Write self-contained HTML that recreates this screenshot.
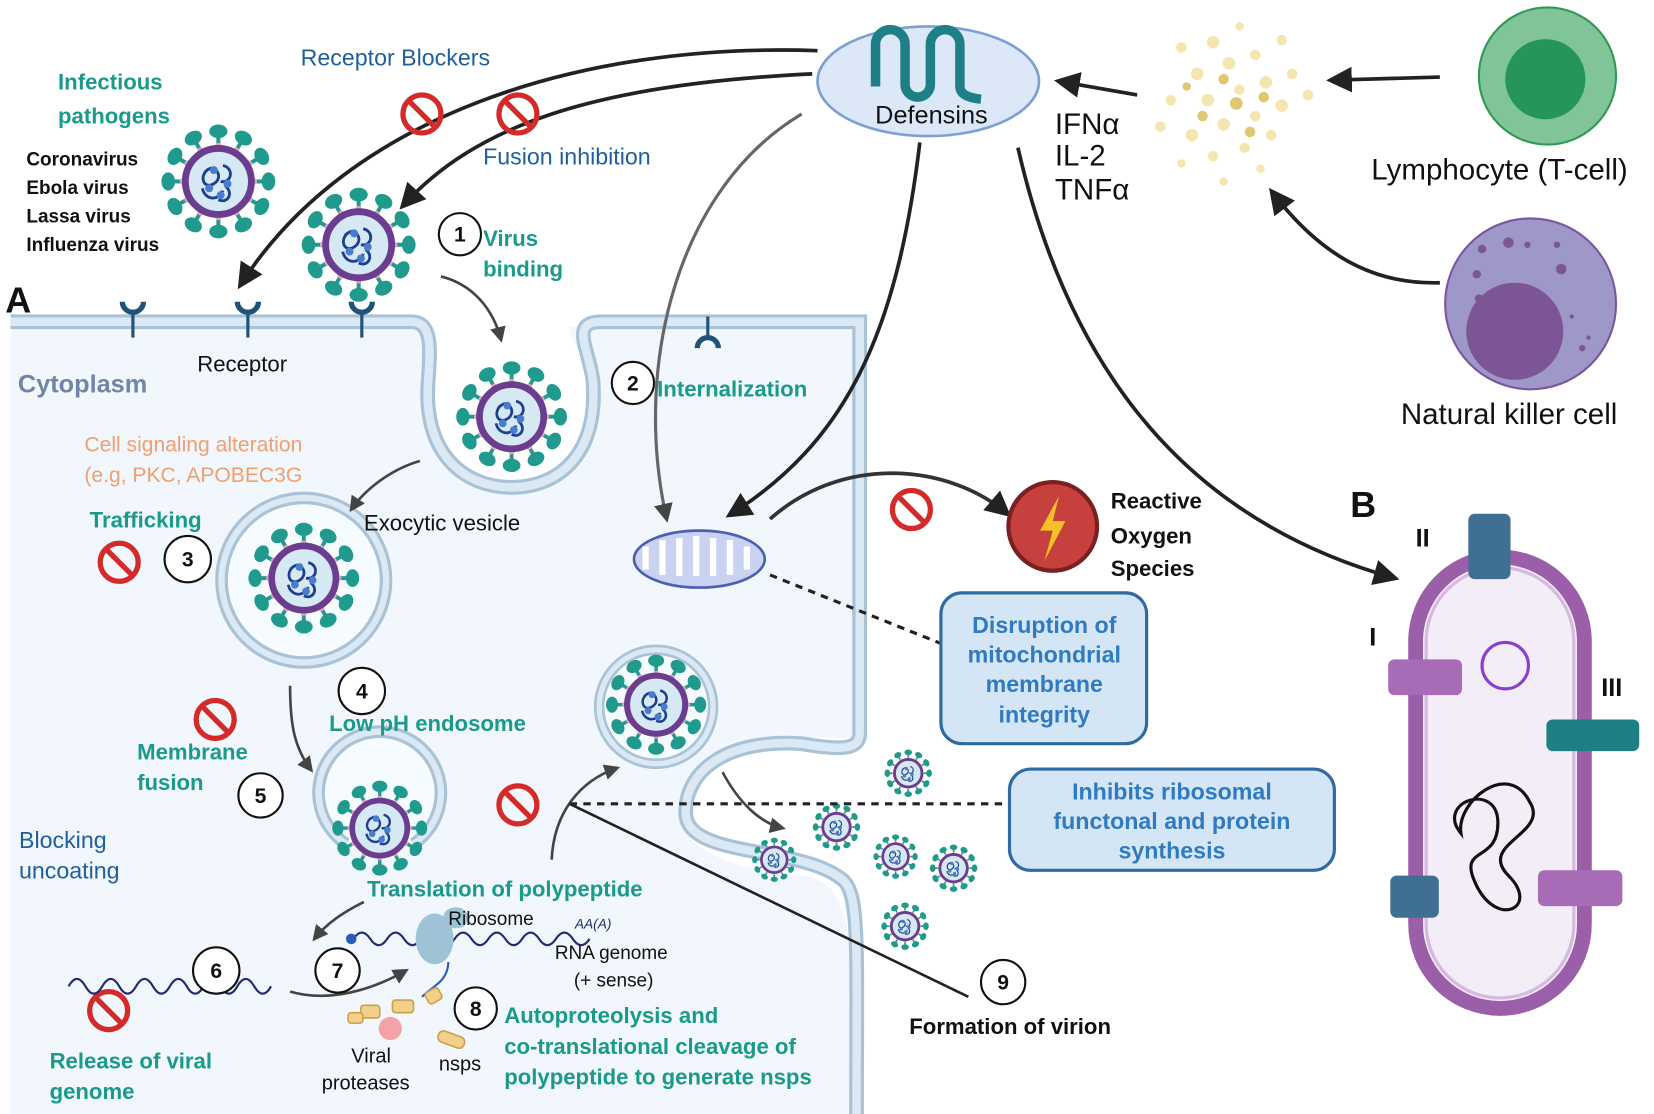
<!DOCTYPE html>
<html><head><meta charset="utf-8"><style>
html,body{margin:0;padding:0;background:#fff}
svg{display:block}
text{font-family:"Liberation Sans",sans-serif}
.tb{fill:#1a9a8a;font-weight:bold;font-size:21px}
.bl{fill:#1f5fa0;font-size:22px}
.k{fill:#111;font-size:21px}
.kb{fill:#111;font-weight:bold;font-size:18px}
.num{font-size:20px;font-weight:bold;fill:#111;text-anchor:middle}
.bx{fill:#2f7ac0;font-weight:bold;font-size:22px;text-anchor:middle}
</style></head><body>
<svg width="1654" height="1114" viewBox="0 0 1568 1056" xmlns="http://www.w3.org/2000/svg">
<defs>
<marker id="ah" viewBox="0 0 10 10" refX="8" refY="5" markerWidth="7" markerHeight="7" orient="auto"><path d="M0,0L10,5L0,10z" fill="#222"/></marker>
<marker id="ah2" viewBox="0 0 10 10" refX="8" refY="5" markerWidth="6" markerHeight="6" orient="auto"><path d="M0,0L10,5L0,10z" fill="#444"/></marker>
<g id="sp"><line x1="0" y1="-30" x2="0" y2="-41" stroke="#1f9a8c" stroke-width="3.5"/><ellipse cx="0" cy="-44" rx="8" ry="6" fill="#1f9a8c"/><circle cx="0" cy="-31" r="3" fill="#e6a3c8"/></g>
<g id="v">
<use href="#sp"/><use href="#sp" transform="rotate(30)"/><use href="#sp" transform="rotate(60)"/><use href="#sp" transform="rotate(90)"/><use href="#sp" transform="rotate(120)"/><use href="#sp" transform="rotate(150)"/><use href="#sp" transform="rotate(180)"/><use href="#sp" transform="rotate(210)"/><use href="#sp" transform="rotate(240)"/><use href="#sp" transform="rotate(270)"/><use href="#sp" transform="rotate(300)"/><use href="#sp" transform="rotate(330)"/>
<circle r="29" fill="#d7e8f5" stroke="#6a3d8f" stroke-width="6"/>
<path d="M-12,-8c8,-10 18,4 8,10c-10,6 -14,-10 -2,-14M4,-14c10,2 8,16 -2,14M-14,6c2,10 14,12 18,2M6,4c8,6 2,16 -6,12" stroke="#1c3f8f" stroke-width="2.5" fill="none"/>
<circle cx="-4" cy="-10" r="3.5" fill="#4a7ccc"/><circle cx="8" cy="2" r="3.5" fill="#4a7ccc"/><circle cx="-8" cy="6" r="3.5" fill="#4a7ccc"/><circle cx="2" cy="12" r="3.5" fill="#4a7ccc"/>
</g>
<g id="no"><circle r="18" fill="none" stroke="#d42a2a" stroke-width="5"/><line x1="-12" y1="-12" x2="12" y2="12" stroke="#d42a2a" stroke-width="5"/></g>
<g id="rc"><line x1="0" y1="0" x2="0" y2="-22" stroke="#1f5378" stroke-width="3"/><path d="M-10,-34 A10,10 0 0 0 10,-34" fill="none" stroke="#1f5378" stroke-width="5"/></g>
</defs>

<!-- cell -->
<path d="M10,305 H405 C405,330 400,340 402,380 C400,430 440,460 485,460 C530,460 568,430 566,380 C565,340 540,330 540,310 L815,305 V700 C780,700 700,690 650,740 C630,780 650,820 760,830 C800,835 812,860 812,1056 H10 Z" fill="#f1f7fc"/>
<path d="M10,305 H390 C410,305 408,330 406,360 C400,430 440,462 485,462 C530,462 568,430 562,360 C558,330 540,305 570,305 H815 V695 C815,710 800,712 760,705 C690,700 650,730 650,770 C650,815 760,800 800,835 C815,850 812,900 812,1056" fill="none" stroke="#a9c2d6" stroke-width="14"/>
<path d="M10,305 H390 C410,305 408,330 406,360 C400,430 440,462 485,462 C530,462 568,430 562,360 C558,330 540,305 570,305 H815 V695 C815,710 800,712 760,705 C690,700 650,730 650,770 C650,815 760,800 800,835 C815,850 812,900 812,1056" fill="none" stroke="#dbe9f4" stroke-width="8"/>

<!-- receptors -->
<use href="#rc" transform="translate(126,320)"/><use href="#rc" transform="translate(235,320)"/><use href="#rc" transform="translate(343,320)"/>
<g transform="translate(671,300)"><line x1="0" y1="0" x2="0" y2="18" stroke="#1f5378" stroke-width="3"/><path d="M-10,30 A10,10 0 0 1 10,30" fill="none" stroke="#1f5378" stroke-width="5"/></g>

<!-- vesicles -->
<circle cx="288" cy="550" r="78" fill="#f6fbff" stroke="#a9c2d6" stroke-width="12"/><circle cx="288" cy="550" r="78" fill="none" stroke="#dbe9f4" stroke-width="6"/>
<circle cx="622" cy="670" r="54" fill="#f6fbff" stroke="#a9c2d6" stroke-width="10"/><circle cx="622" cy="670" r="54" fill="none" stroke="#dbe9f4" stroke-width="5"/>
<path d="M328,800 A58,58 0 1 1 392,800" fill="#f6fbff" stroke="#a9c2d6" stroke-width="12"/><path d="M328,800 A58,58 0 1 1 392,800" fill="none" stroke="#dbe9f4" stroke-width="6"/>

<!-- viruses -->
<use href="#v" transform="translate(207,172) scale(1.08)"/>
<use href="#v" transform="translate(340,232) scale(1.08)"/>
<use href="#v" transform="translate(485,395) scale(1.05)"/>
<use href="#v" transform="translate(288,548) scale(1.05)"/>
<use href="#v" transform="translate(622,668) scale(0.95)"/>
<use href="#v" transform="translate(360,785) scale(0.9)"/>
<use href="#v" transform="translate(861,733) scale(0.45)"/><use href="#v" transform="translate(793,784) scale(0.45)"/><use href="#v" transform="translate(734,815) scale(0.42)"/><use href="#v" transform="translate(849,812) scale(0.42)"/><use href="#v" transform="translate(904,823) scale(0.45)"/><use href="#v" transform="translate(858,878) scale(0.45)"/>

<!-- mitochondrion -->
<ellipse cx="663" cy="530" rx="62" ry="27" fill="#c9d3f1" stroke="#4d5fb0" stroke-width="2.5"/>
<path d="M612,540 V518 M628,545 V512 M644,546 V510 M660,546 V508 M676,546 V510 M692,545 V512 M708,540 V518" stroke="#fff" stroke-width="6"/>

<!-- arrows -->
<g fill="none" stroke-width="3.5" stroke="#222" marker-end="url(#ah)">
<path d="M775,48 C550,40 330,110 228,270"/>
<path d="M770,70 C560,80 450,120 382,195"/>
<path d="M872,135 C850,320 800,420 692,488" />
<path d="M965,140 C1020,380 1150,500 1322,548" />
<path d="M1365,73 L1262,76"/>
<path d="M1078,90 L1004,77"/>
<path d="M1365,268 C1300,270 1250,240 1206,182"/>
<path d="M730,492 C800,430 900,440 955,487" stroke="#333"/>
</g>
<path d="M760,108 C640,180 600,350 632,492" fill="none" stroke="#666" stroke-width="3" marker-end="url(#ah2)"/>
<g fill="none" stroke-width="2.5" stroke="#444" marker-end="url(#ah2)">
<path d="M418,262 C450,270 468,295 475,322"/>
<path d="M398,437 C370,445 345,465 333,483"/>
<path d="M275,650 C275,690 280,710 295,730"/>
<path d="M523,815 C525,770 550,740 585,728"/>
<path d="M345,855 C325,865 310,875 298,890"/>
<path d="M275,940 C310,950 350,940 385,920"/>
<path d="M685,732 C700,760 720,780 742,785"/>
</g>
<path d="M540,762 L918,945" stroke="#222" stroke-width="2.5"/>
<path d="M540,762 H957 M730,545 L892,610" stroke="#222" stroke-width="3" stroke-dasharray="7,6"/>

<!-- no symbols -->
<use href="#no" transform="translate(400,108)"/><use href="#no" transform="translate(491,108)"/><use href="#no" transform="translate(113,533)"/><use href="#no" transform="translate(204,682)"/><use href="#no" transform="translate(491,763)"/><use href="#no" transform="translate(103,958)"/><use href="#no" transform="translate(864,483)"/>

<!-- translation -->
<path d="M65,935 q8,-14 16,0 t16,0 t16,0 t16,0 t16,0 t16,0 t16,0 t16,0 t16,0 t16,0 t16,0 t16,0" fill="none" stroke="#222a70" stroke-width="2"/>
<path d="M335,890 q8,-12 16,0 t16,0 t16,0 t16,0 t16,0 t16,0 t16,0 t16,0 t16,0 t16,0 t16,0 t16,0 t16,0 t16,0" fill="none" stroke="#222a70" stroke-width="2"/>
<circle cx="333" cy="890" r="5" fill="#2a5cc0"/>
<ellipse cx="412" cy="890" rx="18" ry="24" fill="#9fc3d6"/><ellipse cx="432" cy="870" rx="12" ry="10" fill="#9fc3d6"/>
<path d="M425,912 C425,930 410,935 400,945" stroke="#2a5cc0" stroke-width="2" fill="none"/>
<g fill="#f2d08a" stroke="#c9a04c" stroke-width="1.5"><rect x="342" y="953" width="18" height="12" rx="3"/><rect x="372" y="948" width="20" height="12" rx="3"/><rect x="404" y="938" width="14" height="12" rx="3" transform="rotate(-30 411 944)"/><rect x="415" y="980" width="26" height="11" rx="5" transform="rotate(20 428 985)"/><rect x="330" y="960" width="14" height="10" rx="3"/></g>
<circle cx="370" cy="975" r="11" fill="#f3a3a8"/>

<!-- number circles -->
<g fill="#fff" stroke="#111" stroke-width="2">
<circle cx="436" cy="222" r="20"/><circle cx="600" cy="363" r="20"/><circle cx="178" cy="530" r="22"/><circle cx="343" cy="655" r="22"/><circle cx="247" cy="754" r="21"/><circle cx="205" cy="920" r="22"/><circle cx="320" cy="920" r="21"/><circle cx="451" cy="956" r="20"/><circle cx="951" cy="931" r="21"/>
</g>
<text class="num" x="436" y="229">1</text><text class="num" x="600" y="370">2</text><text class="num" x="178" y="537">3</text><text class="num" x="343" y="662">4</text><text class="num" x="247" y="761">5</text><text class="num" x="205" y="927">6</text><text class="num" x="320" y="927">7</text><text class="num" x="451" y="963">8</text><text class="num" x="951" y="938">9</text>

<!-- defensins -->
<ellipse cx="880" cy="77" rx="105" ry="52" fill="#dce8f7" stroke="#7d9fd4" stroke-width="2.5"/>
<path d="M830,82 V42 a14,14 0 0 1 28,0 V80 a12,12 0 0 0 24,0 V42 a14,14 0 0 1 28,0 V82 q0,10 20,12" fill="none" stroke="#1f7f86" stroke-width="9"/>
<text x="883" y="117" font-size="24" text-anchor="middle" fill="#111">Defensins</text>

<!-- cytokine dots -->
<g fill="#f3e6b0">
<circle cx="1120" cy="45" r="5"/><circle cx="1150" cy="40" r="6"/><circle cx="1175" cy="25" r="4"/><circle cx="1135" cy="70" r="6"/><circle cx="1165" cy="60" r="6"/><circle cx="1190" cy="52" r="5"/><circle cx="1215" cy="38" r="5"/><circle cx="1110" cy="95" r="5"/><circle cx="1145" cy="95" r="6"/><circle cx="1175" cy="85" r="5"/><circle cx="1200" cy="78" r="6"/><circle cx="1225" cy="70" r="5"/><circle cx="1100" cy="120" r="5"/><circle cx="1130" cy="128" r="6"/><circle cx="1160" cy="118" r="6"/><circle cx="1190" cy="110" r="5"/><circle cx="1215" cy="100" r="6"/><circle cx="1240" cy="90" r="5"/><circle cx="1120" cy="155" r="4"/><circle cx="1150" cy="148" r="5"/><circle cx="1180" cy="140" r="5"/><circle cx="1205" cy="128" r="5"/><circle cx="1160" cy="172" r="4"/><circle cx="1195" cy="160" r="4"/>
</g>
<g fill="#e0c870"><circle cx="1172" cy="98" r="6"/><circle cx="1160" cy="75" r="5"/><circle cx="1198" cy="92" r="5"/><circle cx="1140" cy="110" r="5"/><circle cx="1185" cy="125" r="5"/><circle cx="1125" cy="82" r="4"/></g>

<!-- cells -->
<circle cx="1467" cy="72" r="65" fill="#82c49a" stroke="#2e9a54" stroke-width="2"/><circle cx="1465" cy="75" r="38" fill="#26955a"/>
<circle cx="1451" cy="288" r="81" fill="#9d98c8" stroke="#7b55a0" stroke-width="2"/><circle cx="1436" cy="314" r="46" fill="#7b5595"/>
<g fill="#7b5595"><circle cx="1405" cy="236" r="4"/><circle cx="1430" cy="230" r="5"/><circle cx="1448" cy="232" r="3"/><circle cx="1480" cy="255" r="5"/><circle cx="1400" cy="260" r="4"/><circle cx="1402" cy="283" r="4"/><circle cx="1476" cy="232" r="3"/><circle cx="1500" cy="330" r="3"/><circle cx="1506" cy="320" r="2"/><circle cx="1400" cy="302" r="3"/><circle cx="1490" cy="300" r="2"/></g>

<!-- ROS -->
<circle cx="998" cy="499" r="42" fill="#c6413d" stroke="#7b2020" stroke-width="4"/>
<path d="M1004,470 L986,503 H998 L990,532 L1010,494 H998 Z" fill="#f6c02a"/>

<!-- boxes -->
<rect x="892" y="562" width="195" height="143" rx="20" fill="#d4e6f6" stroke="#2f6aa0" stroke-width="3"/>
<text class="bx" x="990" y="600">Disruption of</text><text class="bx" x="990" y="628">mitochondrial</text><text class="bx" x="990" y="656">membrane</text><text class="bx" x="990" y="685">integrity</text>
<rect x="957" y="729" width="308" height="96" rx="20" fill="#d4e6f6" stroke="#2f6aa0" stroke-width="3"/>
<text class="bx" x="1111" y="758">Inhibits ribosomal</text><text class="bx" x="1111" y="786">functonal and protein</text><text class="bx" x="1111" y="814">synthesis</text>

<!-- bacterium -->
<rect x="1342" y="528" width="160" height="428" rx="80" fill="#f3edf7" stroke="#9b5ea8" stroke-width="14"/>
<rect x="1352" y="538" width="140" height="408" rx="70" fill="none" stroke="#d6b8e0" stroke-width="3"/>
<circle cx="1427" cy="631" r="22" fill="none" stroke="#8a3fd0" stroke-width="3"/>
<path d="M1385,790 C1360,760 1420,740 1420,780 C1420,820 1380,800 1400,840 C1420,880 1460,860 1430,830 C1400,800 1470,790 1450,760 C1430,720 1380,760 1385,790 Z" fill="none" stroke="#111" stroke-width="3"/>
<g fill="#3f6f93"><rect x="1392" y="487" width="40" height="62" rx="6"/><rect x="1318" y="830" width="46" height="40" rx="6"/></g>
<g fill="#1f7f86"><rect x="1466" y="682" width="88" height="30" rx="6"/></g>
<g fill="#a86bb5"><rect x="1316" y="625" width="70" height="34" rx="6"/><rect x="1458" y="825" width="80" height="34" rx="6"/></g>

<!-- text -->
<text class="tb" x="55" y="85" font-size="22">Infectious</text><text class="tb" x="55" y="117">pathogens</text>
<text class="kb" x="25" y="157">Coronavirus</text><text class="kb" x="25" y="184">Ebola virus</text><text class="kb" x="25" y="211">Lassa virus</text><text class="kb" x="25" y="238">Influenza virus</text>
<text class="bl" x="285" y="62">Receptor Blockers</text>
<text class="bl" x="458" y="156">Fusion inhibition</text>
<text x="5" y="296" font-size="34" font-weight="bold" fill="#111">A</text>
<text x="17" y="372" font-size="24" font-weight="bold" fill="#6f86a8">Cytoplasm</text>
<text class="k" x="187" y="352">Receptor</text>
<text x="80" y="428" font-size="20" fill="#f0a070">Cell signaling alteration</text>
<text x="80" y="457" font-size="20" fill="#f0a070">(e.g, PKC, APOBEC3G</text>
<text class="tb" x="85" y="500" font-size="20">Trafficking</text>
<text class="k" x="345" y="503">Exocytic vesicle</text>
<text class="tb" x="458" y="233">Virus</text><text class="tb" x="458" y="262">binding</text>
<text class="tb" x="623" y="376">Internalization</text>
<text class="tb" x="312" y="693" font-size="20">Low pH endosome</text>
<text class="tb" x="130" y="720">Membrane</text><text class="tb" x="130" y="749">fusion</text>
<text class="bl" x="18" y="804" font-size="21">Blocking</text><text class="bl" x="18" y="833" font-size="21">uncoating</text>
<text class="tb" x="348" y="850">Translation of polypeptide</text>
<text x="425" y="877" font-size="18" fill="#111">Ribosome</text>
<text x="545" y="880" font-size="13" font-style="italic" fill="#222a70">AA(A)</text>
<text x="526" y="909" font-size="18" fill="#111">RNA genome</text><text x="544" y="935" font-size="18" fill="#111">(+ sense)</text>
<text class="tb" x="478" y="970" font-size="20">Autoproteolysis and</text><text class="tb" x="478" y="999" font-size="20">co-translational cleavage of</text><text class="tb" x="478" y="1028" font-size="20">polypeptide to generate nsps</text>
<text x="333" y="1007" font-size="19" fill="#111">Viral</text><text x="305" y="1033" font-size="19" fill="#111">proteases</text><text x="416" y="1015" font-size="19" fill="#111">nsps</text>
<text class="tb" x="47" y="1013" font-size="20">Release of viral</text><text class="tb" x="47" y="1042" font-size="20">genome</text>
<text x="862" y="980" font-size="21" font-weight="bold" fill="#111">Formation of virion</text>
<text x="1000" y="127" font-size="28" fill="#111">IFNα</text><text x="1000" y="157" font-size="28" fill="#111">IL-2</text><text x="1000" y="189" font-size="28" fill="#111">TNFα</text>
<text x="1300" y="170" font-size="28" fill="#111">Lymphocyte (T-cell)</text>
<text x="1328" y="402" font-size="28" fill="#111">Natural killer cell</text>
<text x="1053" y="482" font-size="21" font-weight="bold" fill="#111">Reactive</text><text x="1053" y="515" font-size="21" font-weight="bold" fill="#111">Oxygen</text><text x="1053" y="546" font-size="21" font-weight="bold" fill="#111">Species</text>
<text x="1280" y="490" font-size="34" font-weight="bold" fill="#111">B</text>
<text x="1342" y="518" font-size="24" font-weight="bold" fill="#111">II</text><text x="1298" y="612" font-size="24" font-weight="bold" fill="#111">I</text><text x="1518" y="660" font-size="24" font-weight="bold" fill="#111">III</text>
</svg>
</body></html>
